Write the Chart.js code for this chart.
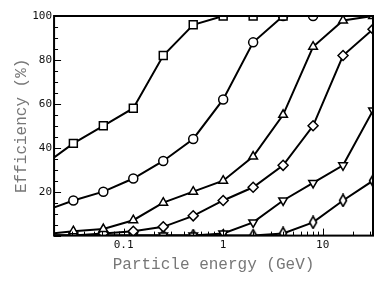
<!DOCTYPE html>
<html>
<head>
<meta charset="utf-8">
<script src="https://cdn.jsdelivr.net/npm/chart.js@4.4.1/dist/chart.umd.min.js"></script>
<style>
  html, body { margin: 0; padding: 0; background: #fff; }
  canvas { display: block; }
</style>
</head>
<body>
<canvas id="effChart" width="390" height="288"></canvas>
<script>
// particle energy (GeV) at each measured point
var energies = [1/64, 1/32, 1/16, 1/8, 1/4, 1/2, 1, 2, 4, 8, 16, 32];

// efficiency (%) per curve, null = no point
var squares   = [32, 42, 50, 58, 82, 96, 100, 100, 100, null, null, null];
var circles   = [11, 16, 20, 26, 34, 44, 62, 88, 100, 100, null, null];
var trisUp    = [0.5, 2, 3, 7, 15, 20, 25, 36, 55, 86, 98, 100];
var diamonds  = [0, 0, 1, 2, 4, 9, 16, 22, 32, 50, 82, 94];
var trisDown  = [0, 0, 0, 0, 0, 0, 1, 6, 16, 24, 32, 57];
var thinDiam  = [0, 0, 0, 0, 0, 0, 0, 0, 1, 6, 16, 25];

var xTickLabels = [0.1, 1, 10];
var yTickLabels = [20, 40, 60, 80, 100];

function thinDiamond() {
    var c = document.createElement('canvas');
    c.width = 10;
    c.height = 14;
    var g = c.getContext('2d');
    g.beginPath();
    g.moveTo(5, 1);
    g.lineTo(8.5, 7);
    g.lineTo(5, 13);
    g.lineTo(1.5, 7);
    g.closePath();
    g.fillStyle = '#fff';
    g.fill();
    g.lineWidth = 1.6;
    g.strokeStyle = '#000';
    g.stroke();
    return c;
}

function points(values) {
    var out = [];
    energies.forEach(function (e, i) {
        if (values[i] !== null) out.push({ x: e, y: values[i] });
    });
    return out;
}

function series(values, style, radius, extra) {
    var ds = {
        data: points(values),
        borderColor: '#000',
        borderWidth: 2,
        pointStyle: style,
        pointRadius: radius,
        pointBackgroundColor: '#fff',
        pointBorderColor: '#000',
        pointBorderWidth: 1.5,
        tension: 0,
        clip: 0
    };
    return Object.assign(ds, extra || {});
}

// ticks drawn inward plus a closed frame
var frameTicks = {
    id: 'frameTicks',
    afterDatasetsDraw: function (chart) {
        var ctx = chart.ctx, a = chart.chartArea;
        var x = chart.scales.x, y = chart.scales.y;
        ctx.save();
        ctx.strokeStyle = '#000';
        ctx.lineWidth = 1;
        ctx.beginPath();
        x.ticks.forEach(function (t) {
            var px = Math.round(x.getPixelForValue(t.value)) + 0.5;
            var len = xTickLabels.indexOf(t.value) >= 0 ? 7 : 4;
            ctx.moveTo(px, a.bottom);
            ctx.lineTo(px, a.bottom - len);
        });
        y.ticks.forEach(function (t) {
            var py = Math.round(y.getPixelForValue(t.value)) + 0.5;
            var len = t.value % 20 === 0 ? 7 : 4;
            ctx.moveTo(a.left, py);
            ctx.lineTo(a.left + len, py);
        });
        ctx.stroke();
        ctx.lineWidth = 2;
        ctx.strokeRect(a.left, a.top, a.right - a.left, a.bottom - a.top);
        ctx.restore();
    }
};

var tickFont = { family: 'DejaVu Sans Mono', size: 11 };
var titleFont = { family: 'Liberation Mono', size: 16 };

new Chart(document.getElementById('effChart'), {
    type: 'line',
    data: {
        datasets: [
            series(squares, 'rect', 5.6),
            series(circles, 'circle', 4.5),
            series(trisUp, 'triangle', 5),
            series(diamonds, 'rectRot', 5),
            series(trisDown, 'triangle', 5, { pointRotation: 180 }),
            series(thinDiam, thinDiamond(), 5)
        ]
    },
    options: {
        responsive: false,
        animation: false,
        devicePixelRatio: 1,
        layout: { padding: { left: 12, right: 17, top: 16, bottom: 14 } },
        plugins: { legend: { display: false }, tooltip: { enabled: false } },
        scales: {
            x: {
                type: 'logarithmic',
                min: 0.02,
                max: 32,
                afterBuildTicks: function (scale) {
                    var list = [];
                    for (var p = -2; p <= 1; p++) {
                        for (var m = 1; m <= 9; m++) {
                            var v = +(m * Math.pow(10, p)).toPrecision(3);
                            if (v >= 0.02 && v <= 32) list.push({ value: v });
                        }
                    }
                    scale.ticks = list;
                },
                ticks: {
                    autoSkip: false,
                    maxRotation: 0,
                    padding: 3,
                    color: '#111',
                    font: tickFont,
                    callback: function (v) {
                        return xTickLabels.indexOf(v) >= 0 ? String(v) : '';
                    }
                },
                grid: { display: false, drawTicks: false },
                border: { display: false },
                title: {
                    display: true,
                    text: 'Particle energy (GeV)',
                    color: '#777',
                    font: titleFont,
                    padding: { top: 0, bottom: 0 }
                }
            },
            y: {
                min: 0,
                max: 100,
                ticks: {
                    stepSize: 5,
                    autoSkip: false,
                    padding: 2,
                    color: '#111',
                    font: tickFont,
                    callback: function (v) {
                        return yTickLabels.indexOf(v) >= 0 ? String(v) : '';
                    }
                },
                grid: { display: false, drawTicks: false },
                border: { display: false },
                title: {
                    display: true,
                    text: 'Efficiency (%)',
                    color: '#777',
                    font: titleFont,
                    padding: { top: 0, bottom: -1 }
                }
            }
        }
    },
    plugins: [frameTicks]
});
</script>
</body>
</html>
